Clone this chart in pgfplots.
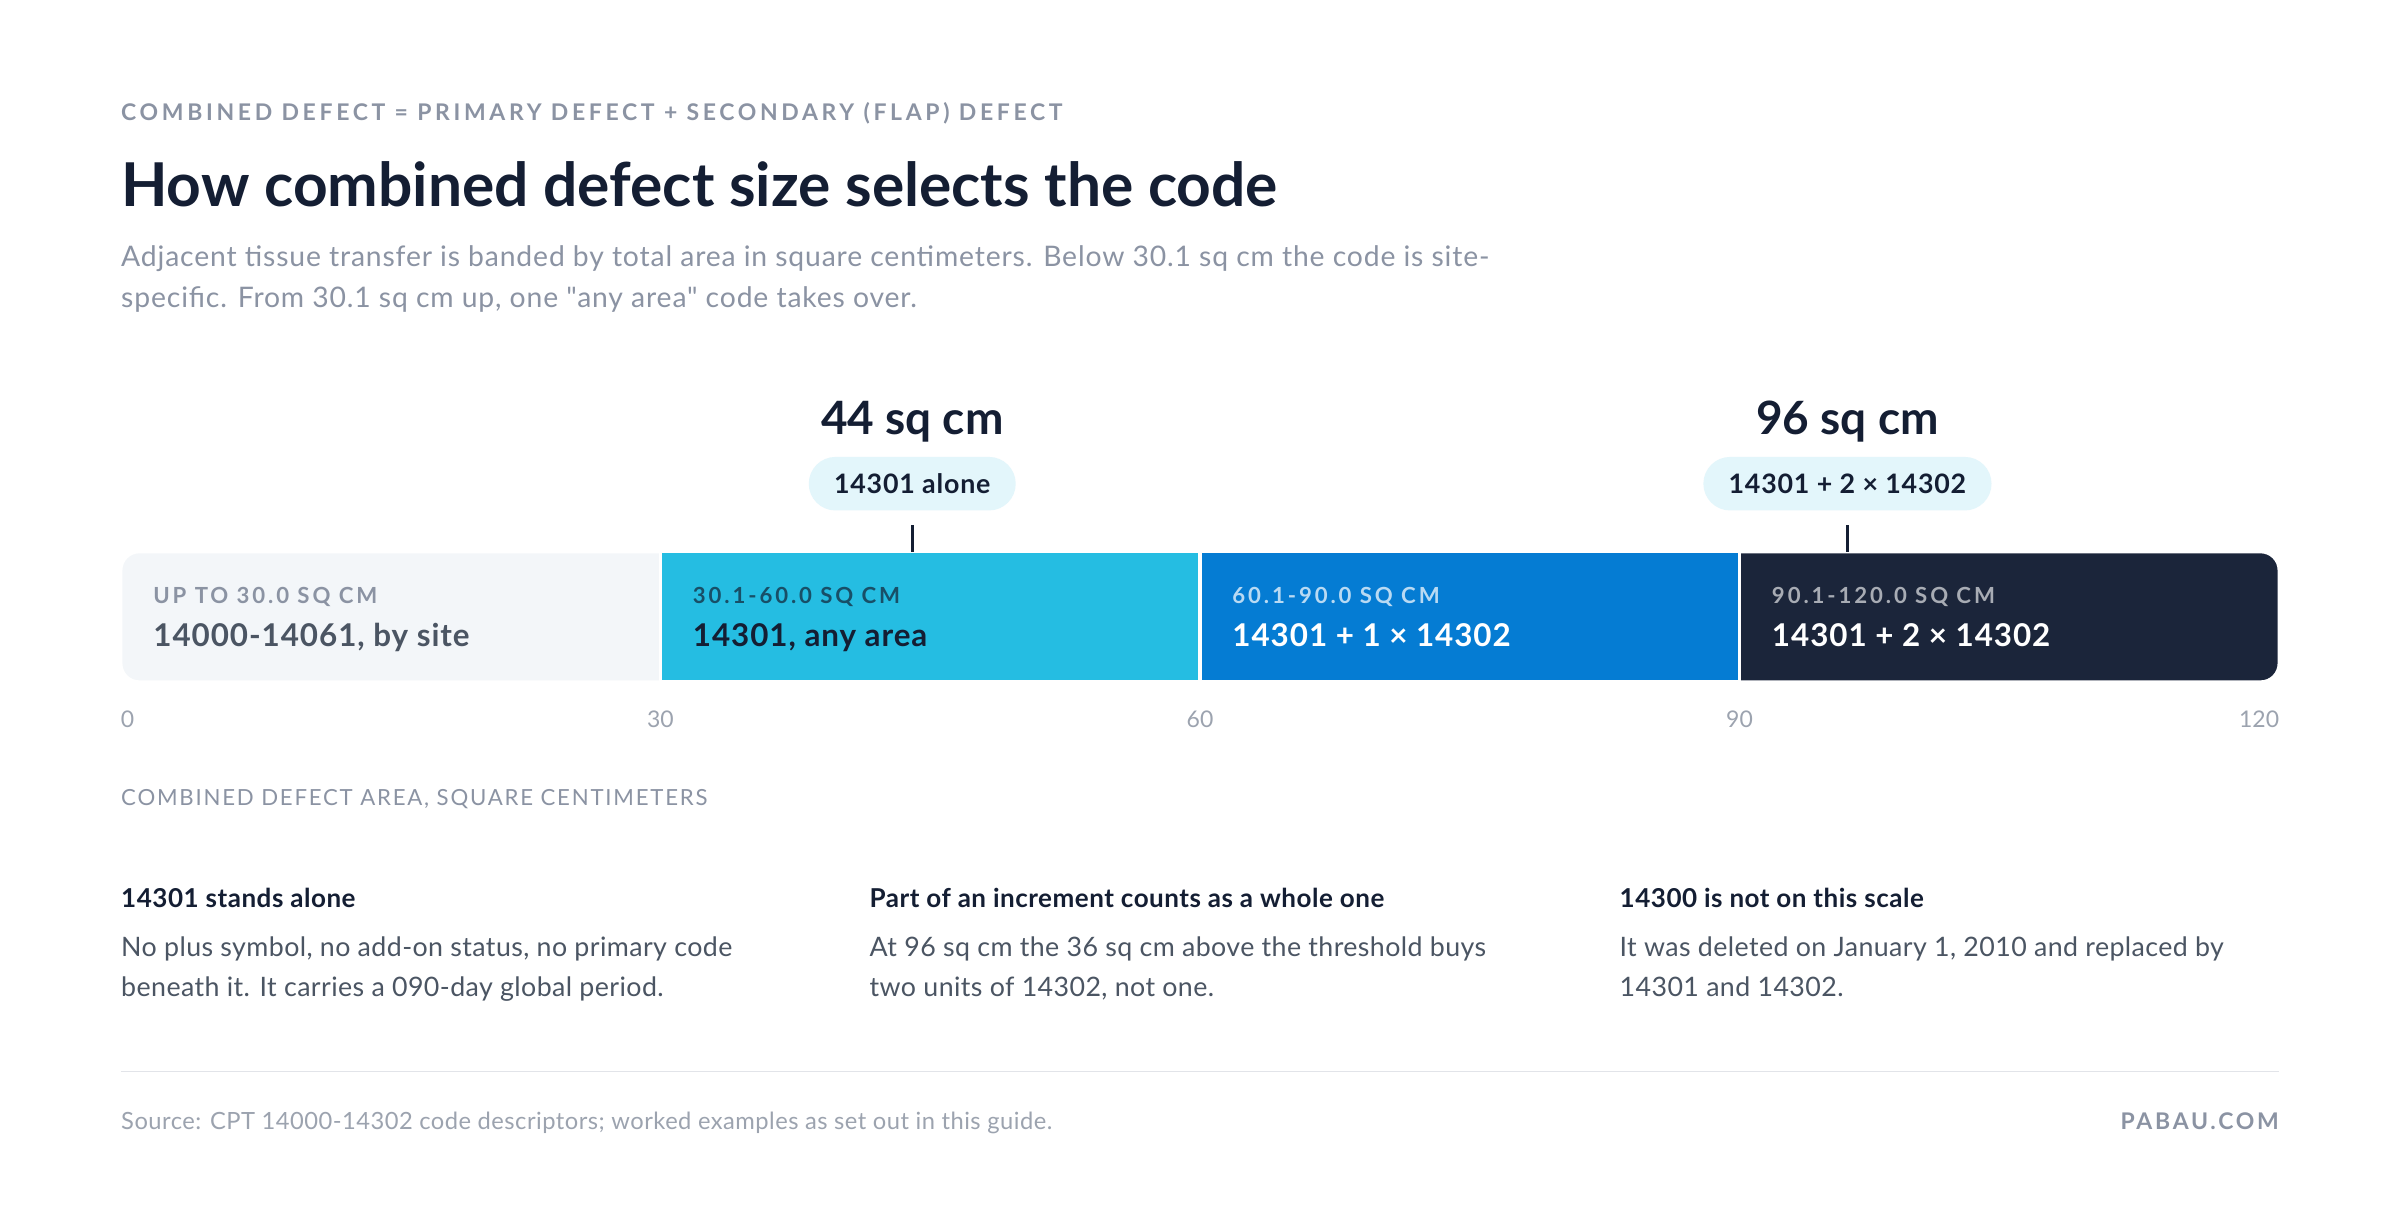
\documentclass[border=0pt]{standalone}
\usepackage{fontspec}
\setmainfont{Lato}[Ligatures=TeXOff]
\usepackage{pgfplots}
\pgfplotsset{compat=1.18}

\definecolor{ink}{HTML}{141E33}
\definecolor{muted}{HTML}{8B93A3}
\definecolor{body}{HTML}{4B5563}
\definecolor{faint}{HTML}{9CA3AF}
\definecolor{rule}{HTML}{E2E4E9}
\definecolor{segA}{HTML}{F3F6F9}
\definecolor{segB}{HTML}{25BDE2}
\definecolor{segC}{HTML}{057CD3}
\definecolor{segD}{HTML}{1B253A}
\definecolor{pill}{HTML}{E3F6FB}

\newcommand{\fs}[2]{\fontsize{#1}{#2}\selectfont}

\begin{document}
\begin{tikzpicture}[x=1pt,y=1pt]
\fill[white] (0,0) rectangle (1568,801);

% header
\node[anchor=base west,inner sep=0,text=muted,font={\fs{15}{18}\bfseries\addfontfeature{LetterSpace=16}}]
  at (79,722.5) {COMBINED DEFECT = PRIMARY DEFECT + SECONDARY (FLAP) DEFECT};
\node[anchor=base west,inner sep=0,text=ink,font={\fs{39.5}{46}\bfseries}]
  at (79,666.4) {How combined defect size selects the code};
\node[anchor=base west,inner sep=0,text=muted,font={\fs{18.5}{22}\addfontfeature{LetterSpace=3}}]
  at (79,626.6) {Adjacent tissue transfer is banded by total area in square centimeters. Below 30.1 sq cm the code is site-};
\node[anchor=base west,inner sep=0,text=muted,font={\fs{18.5}{22}\addfontfeature{LetterSpace=3}}]
  at (79,600) {specific. From 30.1 sq cm up, one "any area" code takes over.};

\begin{axis}[
    at={(79pt,356.5pt)}, anchor=south west,
    scale only axis, width=1410pt, height=83pt,
    xmin=0, xmax=120, ymin=0, ymax=1,
    clip=false,
    axis line style={draw=none},
    tick style={draw=none},
    ytick=\empty,
    xtick={0,30,60,90,120},
    xticklabels={\makebox[0pt][l]{0},30,60,90,\makebox[0pt][r]{120}},
    xticklabel style={anchor=base,yshift=-30.5pt,inner sep=0,text=faint,font={\fs{15}{18}}},
    xlabel={COMBINED DEFECT AREA, SQUARE CENTIMETERS},
    xlabel style={at={(axis description cs:0,0)},anchor=base west,yshift=-81.5pt,inner sep=0,
      text=muted,font={\fs{14.5}{18}\addfontfeature{LetterSpace=8}}},
]
% bands: outer ends rounded, inner bands laid over them
\addplot[fill=segA,draw=white,line width=2pt,rounded corners=12pt]
  coordinates {(40,-0.012) (0,-0.012) (0,1.012) (40,1.012)} -- cycle;
\addplot[fill=segD,draw=white,line width=2pt,rounded corners=12pt]
  coordinates {(80,-0.012) (120,-0.012) (120,1.012) (80,1.012)} -- cycle;
\addplot[fill=segB,draw=white,line width=2pt]
  coordinates {(30,-0.012) (60,-0.012) (60,1.012) (30,1.012)} -- cycle;
\addplot[fill=segC,draw=white,line width=2pt]
  coordinates {(60,-0.012) (90,-0.012) (90,1.012) (60,1.012)} -- cycle;

% band texts
\node[anchor=base west,inner sep=0,xshift=21pt,text=muted,font={\fs{14.5}{17}\bfseries\addfontfeature{LetterSpace=13}}]
  at (axis cs:0,0.608) {UP TO 30.0 SQ CM};
\node[anchor=base west,inner sep=0,xshift=21pt,text=body,font={\fs{20.5}{24}\bfseries\addfontfeature{LetterSpace=3}}]
  at (axis cs:0,0.264) {14000-14061, by site};
\node[anchor=base west,inner sep=0,xshift=21pt,text=black!20!segB!40!ink,font={\fs{14.5}{17}\bfseries\addfontfeature{LetterSpace=13}}]
  at (axis cs:30,0.608) {30.1-60.0 SQ CM};
\node[anchor=base west,inner sep=0,xshift=21pt,text=ink,font={\fs{20.5}{24}\bfseries\addfontfeature{LetterSpace=3}}]
  at (axis cs:30,0.264) {14301, any area};
\node[anchor=base west,inner sep=0,xshift=21pt,text=white!72!segC,font={\fs{14.5}{17}\bfseries\addfontfeature{LetterSpace=13}}]
  at (axis cs:60,0.608) {60.1-90.0 SQ CM};
\node[anchor=base west,inner sep=0,xshift=21pt,text=white,font={\fs{20.5}{24}\bfseries\addfontfeature{LetterSpace=3}}]
  at (axis cs:60,0.264) {14301 + 1 × 14302};
\node[anchor=base west,inner sep=0,xshift=21pt,text=white!62!segD,font={\fs{14.5}{17}\bfseries\addfontfeature{LetterSpace=13}}]
  at (axis cs:90,0.608) {90.1-120.0 SQ CM};
\node[anchor=base west,inner sep=0,xshift=21pt,text=white,font={\fs{20.5}{24}\bfseries\addfontfeature{LetterSpace=3}}]
  at (axis cs:90,0.264) {14301 + 2 × 14302};

% worked examples
\addplot[draw=ink,line width=2pt] coordinates {(44,1.012) (44,1.223)};
\addplot[draw=ink,line width=2pt] coordinates {(96,1.012) (96,1.223)};
\node[anchor=center,fill=pill,rounded corners=17.5pt,minimum height=35pt,inner xsep=16.5pt,inner ysep=0,
  text=ink,font={\fs{17.5}{20}\bfseries\addfontfeature{LetterSpace=3}}] at (axis cs:44,1.548) {14301 alone};
\node[anchor=center,fill=pill,rounded corners=17.5pt,minimum height=35pt,inner xsep=16.5pt,inner ysep=0,
  text=ink,font={\fs{17.5}{20}\bfseries\addfontfeature{LetterSpace=3}}] at (axis cs:96,1.548) {14301 + 2 × 14302};
\node[anchor=base,inner sep=0,text=ink,font={\fs{30}{34}\bfseries}] at (axis cs:44,1.934) {44 sq cm};
\node[anchor=base,inner sep=0,text=ink,font={\fs{30}{34}\bfseries}] at (axis cs:96,1.934) {96 sq cm};
\end{axis}

% notes
\begin{scope}[every node/.style={anchor=base west,inner sep=0}]
\node[text=ink,font={\fs{17}{20}\bfseries\addfontfeature{LetterSpace=2}}] at (79,208) {14301 stands alone};
\node[text=body,font={\fs{17.5}{21}\addfontfeature{LetterSpace=1.5}}] at (79,176.4) {No plus symbol, no add-on status, no primary code};
\node[text=body,font={\fs{17.5}{21}\addfontfeature{LetterSpace=1.5}}] at (79,150) {beneath it. It carries a 090-day global period.};
\node[text=ink,font={\fs{17}{20}\bfseries\addfontfeature{LetterSpace=2}}] at (568,208) {Part of an increment counts as a whole one};
\node[text=body,font={\fs{17.5}{21}\addfontfeature{LetterSpace=1.5}}] at (568,176.4) {At 96 sq cm the 36 sq cm above the threshold buys};
\node[text=body,font={\fs{17.5}{21}\addfontfeature{LetterSpace=1.5}}] at (568,150) {two units of 14302, not one.};
\node[text=ink,font={\fs{17}{20}\bfseries\addfontfeature{LetterSpace=2}}] at (1058,208) {14300 is not on this scale};
\node[text=body,font={\fs{17.5}{21}\addfontfeature{LetterSpace=1.5}}] at (1058,176.4) {It was deleted on January 1, 2010 and replaced by};
\node[text=body,font={\fs{17.5}{21}\addfontfeature{LetterSpace=1.5}}] at (1058,150) {14301 and 14302.};
\end{scope}

% footer
\draw[rule,line width=1.2pt] (79,101) -- (1489,101);
\node[anchor=base west,inner sep=0,text=faint,font={\fs{15.5}{18}\addfontfeature{LetterSpace=2}}] at (79,63)
  {Source: CPT 14000-14302 code descriptors; worked examples as set out in this guide.};
\node[anchor=base east,inner sep=0,text=muted,font={\fs{15}{18}\bfseries\addfontfeature{LetterSpace=12}}] at (1489,63)
  {PABAU.COM};
\end{tikzpicture}
\end{document}
